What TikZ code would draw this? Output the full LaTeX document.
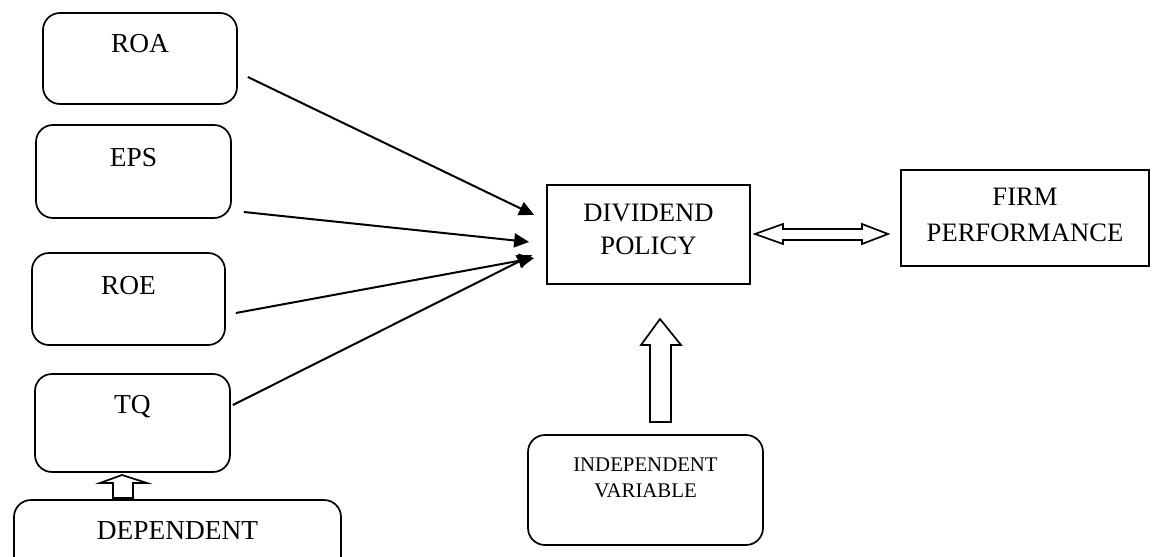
\documentclass[tikz,border=0pt]{standalone}
\usepackage{fontspec}
\setmainfont{Liberation Serif}
\usetikzlibrary{arrows.meta}
\begin{document}
\begin{tikzpicture}[x=0.5pt,y=-0.5pt,
  rbox/.style={draw,line width=0.85pt,rounded corners=8.5pt,inner sep=0pt},
  sbox/.style={draw,line width=0.85pt,inner sep=0pt},
  lbl/.style={anchor=base,font=\fontsize{13.7pt}{16pt}\selectfont},
  mlbl/.style={anchor=base,font=\fontsize{13.3pt}{16pt}\selectfont},
  slbl/.style={anchor=base,font=\fontsize{10.4pt}{12pt}\selectfont},
  arr/.style={line width=1pt,-{Triangle[length=7.5pt,width=7pt]}},
  blk/.style={draw,line width=0.85pt,fill=white,line join=miter}]
\useasboundingbox (0,0) rectangle (1152,557);
\begin{scope}
\clip (0,0) rectangle (1152,557);
\node[rbox,minimum width=97pt,minimum height=45.5pt,
  label={[lbl,yshift=-20pt]north:ROA}] (roa) at (140,58.5) {};
\node[rbox,minimum width=97.5pt,minimum height=46.5pt,
  label={[lbl,yshift=-21pt]north:EPS}] (eps) at (133.5,171.5) {};
\node[rbox,minimum width=96.5pt,minimum height=46pt,
  label={[lbl,yshift=-21pt]north:ROE}] (roe) at (128.5,299) {};
\node[rbox,minimum width=97.5pt,minimum height=49pt,
  label={[lbl,yshift=-20pt]north:TQ}] (tq) at (132.5,423) {};
\node[rbox,minimum width=163.5pt,minimum height=50pt,
  label={[lbl,yshift=-20pt]north:DEPENDENT}] (dep) at (177.5,550) {};
\node[sbox,minimum width=101.5pt,minimum height=49.5pt,
  label={[mlbl,yshift=-18.5pt]north:DIVIDEND},
  label={[mlbl,yshift=-35pt]north:POLICY}] (div) at (648.5,234.5) {};
\node[sbox,minimum width=124pt,minimum height=48pt,
  label={[mlbl,yshift=-18pt]north:FIRM},
  label={[mlbl,yshift=-36pt]north:PERFORMANCE}] (firm) at (1025,218) {};
\node[rbox,minimum width=117.5pt,minimum height=55pt,
  label={[slbl,yshift=-18.5pt]north:INDEPENDENT},
  label={[slbl,yshift=-31.5pt]north:VARIABLE}] (ind) at (645.5,490) {};
\end{scope}

\draw[arr] ([xshift=5pt,yshift=-9.25pt]roa.east) -- ([xshift=-6pt,yshift=9.75pt]div.west);
\draw[arr] ([xshift=6pt,yshift=-20.25pt]eps.east) -- ([xshift=-8.5pt,yshift=-3.75pt]div.west);
\draw[arr] ([xshift=5pt,yshift=-7pt]roe.east) -- ([xshift=-6pt,yshift=-11.75pt]div.west);
\draw[arr] ([xshift=1pt,yshift=9pt]tq.east) -- ([xshift=-7pt,yshift=-10.25pt]div.west);

% double block arrow between dividend policy and firm performance
\draw[blk] (755,234) -- (783,224) -- (783,229) -- (862,229) -- (862,224) -- (888,234)
  -- (862,244) -- (862,240) -- (783,240) -- (783,244) -- cycle;
% block arrow from independent variable up to dividend policy
\draw[blk] (660,319) -- (681,345) -- (671,345) -- (671,422) -- (650,422) -- (650,345)
  -- (641,345) -- cycle;
% small block arrow from dependent up to TQ
\draw[blk] (122,475) -- (147,483) -- (133,483) -- (133,498) -- (113,498) -- (113,483)
  -- (100,483) -- cycle;
\end{tikzpicture}
\end{document}
